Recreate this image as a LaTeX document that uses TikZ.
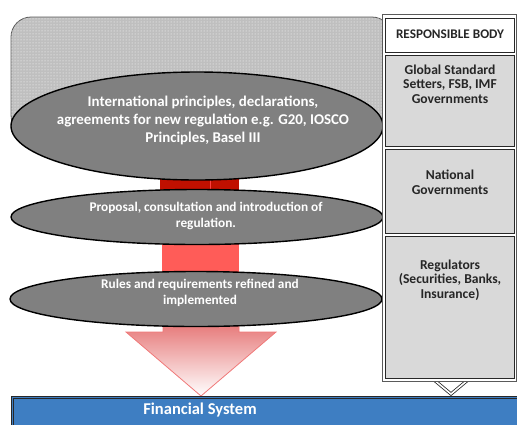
\documentclass[tikz,border=0pt]{standalone}
\usepackage{fontspec}
\setmainfont{Carlito}
\usetikzlibrary{shapes.geometric,patterns}
\definecolor{ellgray}{RGB}{128,128,128}
\definecolor{darkred}{RGB}{192,16,0}
\definecolor{lightred}{RGB}{255,92,88}
\definecolor{arrowred}{RGB}{226,96,96}
\definecolor{arrowline}{RGB}{240,120,120}
\definecolor{cellgray}{RGB}{217,217,217}
\definecolor{fsblue}{RGB}{62,126,194}
\definecolor{framecol}{RGB}{90,90,90}
\definecolor{celledge}{RGB}{40,40,40}
\tikzset{
  ell/.style={ellipse, draw=black, line width=1.4pt, fill=ellgray, inner sep=0pt},
  elltext/.style={text=white, font=\bfseries\fontsize{13.3}{16.7}\selectfont, align=center},
  cellbox/.style={draw=celledge, line width=0.9pt},
  outerframe/.style={draw=framecol, line width=1pt},
  celltext/.style={text=black!85, font=\bfseries\fontsize{13.6}{14.6}\selectfont, align=center},
  chev/.style={draw=celledge, line width=0.8pt, double=white, double distance=1.6pt},
}
\begin{document}
\begin{tikzpicture}[x=1pt,y=-1pt]
\useasboundingbox (0,0) rectangle (517,424);
\clip (0,0) rectangle (517,424);
% dotted background box
\path[rounded corners=20pt, draw=framecol, line width=0.8pt, fill=gray!50,
      postaction={pattern=dots, pattern color=white}] (11,17) rectangle (392,135);
% red bars
\fill[darkred] (160,160) rectangle (239,205);
\draw[red!75!white, line width=0.4pt] (210,178) -- (210,192);
\fill[lightred] (162,230) rectangle (239,285);
% arrow
\path[draw=arrowline, line width=0.8pt, top color=arrowred, bottom color=white]
  (163,310) -- (239,310) -- (239,332) -- (276,332) -- (201,396) -- (126,332) -- (163,332) -- cycle;
% ellipses
\node[ell, minimum width=372pt, minimum height=108pt] (e1) at (197,126) {};
\node[elltext, font=\bfseries\fontsize{14.9}{18}\selectfont] (t1) at (203,120) {International principles, declarations,\\agreements for new regulation e.g. G20, IOSCO\\Principles, Basel III};
\node[ell, minimum width=372pt, minimum height=55pt] (e2) at (197,217) {};
\node[elltext] (t2) at (206,216) {Proposal, consultation and introduction of\\regulation.};
\node[ell, minimum width=372pt, minimum height=55pt] (e3) at (196,299) {};
\node[elltext] (t3) at (200,293) {Rules and requirements refined and\\implemented};
% chevron under the column
\path[chev] (433,379) -- (451,394) -- (469,379);
% financial system
\path[draw=celledge, line width=0.8pt, fill=fsblue] (11,396) rectangle (530,440);
\draw[draw=celledge, line width=0.6pt] (13,398) -- (530,398);
\draw[draw=celledge, line width=0.6pt] (13,398) -- (13,440);
\node[text=white, font=\bfseries\fontsize{16.5}{18}\selectfont] (fs) at (200,410) {Financial System};
% responsible body column
\path[outerframe, fill=white] (382,14) rectangle (516.5,381);
\path[cellbox, fill=white] (385.5,18) rectangle (514,52);
\node[text=black!85, font=\bfseries\fontsize{13.2}{14}\selectfont] (rb) at (450,34) {RESPONSIBLE BODY};
\path[cellbox, fill=cellgray] (385.5,55) rectangle (514,146);
\node[celltext] (c1) at (450,84) {Global Standard\\Setters, FSB, IMF\\Governments};
\path[cellbox, fill=cellgray] (385.5,149) rectangle (514,233);
\node[celltext] (c2) at (450,182) {National\\Governments};
\path[cellbox, fill=cellgray] (385.5,236) rectangle (514,378);
\node[celltext] (c3) at (450,280) {Regulators\\(Securities, Banks,\\Insurance)};
\end{tikzpicture}
\end{document}
